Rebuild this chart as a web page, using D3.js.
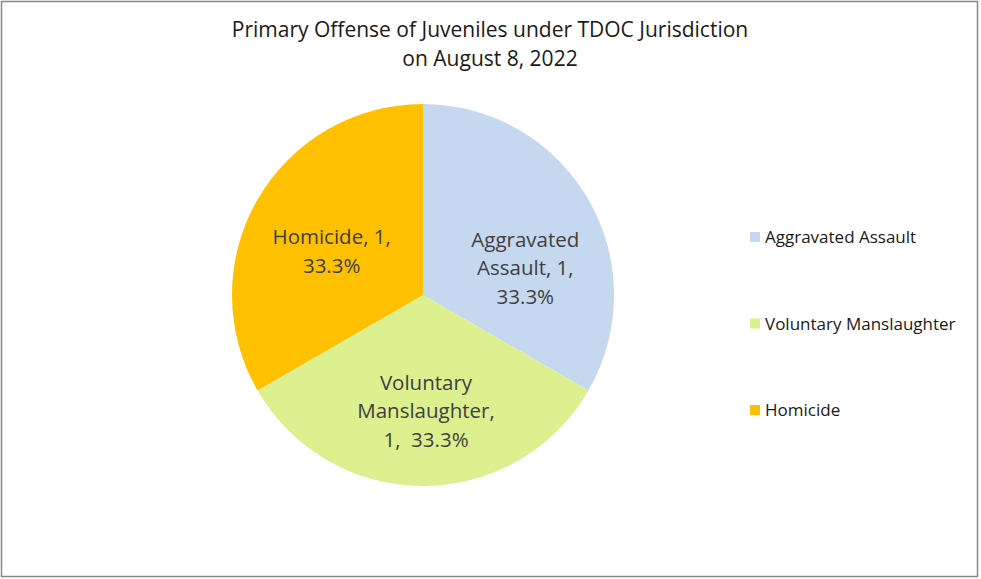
<!DOCTYPE html>
<html>
<head>
<meta charset="utf-8">
<script src="https://cdn.jsdelivr.net/npm/d3@7"></script>
<style>
  body { margin: 0; background: #fff; }
  svg text { font-family: "Open Sans", "Noto Sans", sans-serif; }
</style>
</head>
<body>
<script>
// chart data
var categories = ['Aggravated Assault', 'Voluntary Manslaughter', 'Homicide'];
var counts = [1, 1, 1];
var labelLines = [
    ['Aggravated', 'Assault, 1,', '33.3%'],
    ['Voluntary', 'Manslaughter,', '1,  33.3%'],
    ['Homicide, 1,', '33.3%']
];
var titleLines = ['Primary Offense of Juveniles under TDOC Jurisdiction', 'on August 8, 2022'];

var data = categories.map(function (c, i) {
    return { mode: c, count: counts[i], lines: labelLines[i] };
});

var width = 981,
    height = 579,
    radius = 191,
    cx = 423,
    cy = 295;

// best-fit label nudges (px), like excel moves them around
var labelNudge = [[13, 25], [3, 13], [-2, 8]];

var color = d3.scaleOrdinal()
    .domain(categories)
    .range(['#c6d8ef', '#dcf08f', '#ffc000']);

var svg = d3.select('body').append('svg')
    .attr('width', width)
    .attr('height', height);

// outer frame
svg.append('rect')
    .attr('x', 1.5).attr('y', 1.5)
    .attr('width', 976).attr('height', 575)
    .attr('fill', '#fff')
    .attr('stroke', '#888')
    .attr('stroke-width', 1.5);

svg.selectAll('.title')
    .data(titleLines)
    .enter().append('text')
    .attr('x', 490)
    .attr('y', function (d, i) { return 37 + i * 29; })
    .attr('text-anchor', 'middle')
    .attr('font-size', '21px')
    .attr('fill', '#1a1a1a')
    .text(function (d) { return d; });

var arc = d3.arc()
    .outerRadius(radius)
    .innerRadius(0);

var pie = d3.pie()
    .sort(null)
    .value(function (d) { return d.count; });

var chart = svg.append('g')
    .attr('transform', 'translate(' + cx + ',' + cy + ')');

var g = chart.selectAll('.arc')
    .data(pie(data))
    .enter().append('g');

g.append('path')
    .attr('d', arc)
    .style('fill', function (d) { return color(d.data.mode); });

var labelArc = d3.arc().outerRadius(radius * 1.08).innerRadius(0);

g.append('text')
    .attr('transform', function (d, i) {
        var c = labelArc.centroid(d);
        c[0] += labelNudge[i][0];
        c[1] += labelNudge[i][1];
        return 'translate(' + c + ')';
    })
    .attr('text-anchor', 'middle')
    .attr('font-size', '20.5px')
    .attr('fill', '#404040')
    .each(function (d) {
        var n = d.data.lines.length;
        var t = d3.select(this);
        d.data.lines.forEach(function (line, i) {
            t.append('tspan')
                .attr('x', 0)
                .attr('y', (i - (n - 1) / 2) * 28.5 + 7)
                .attr('xml:space', 'preserve')
                .text(line);
        });
    });

// legend
var legend = svg.selectAll('.legend')
    .data(categories)
    .enter().append('g')
    .attr('transform', function (d, i) { return 'translate(750,' + (237 + i * 86.5) + ')'; });

legend.append('rect')
    .attr('x', 0).attr('y', -5)
    .attr('width', 10).attr('height', 10)
    .attr('fill', function (d) { return color(d); });

legend.append('text')
    .attr('x', 15)
    .attr('y', 6)
    .attr('font-size', '17px')
    .attr('fill', '#1a1a1a')
    .text(function (d) { return d; });
</script>
</body>
</html>
